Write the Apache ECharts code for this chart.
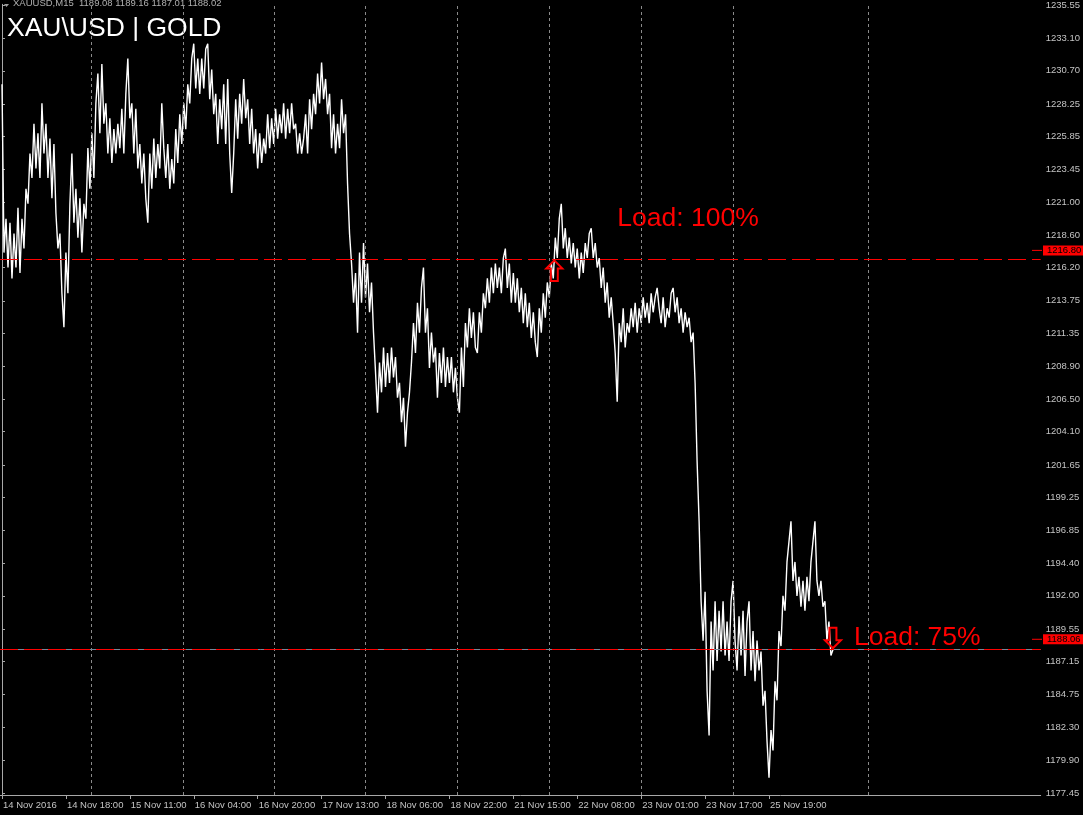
<!DOCTYPE html>
<html><head><meta charset="utf-8">
<script src="https://cdn.jsdelivr.net/npm/echarts@6/dist/echarts.min.js"></script>
<style>html,body{margin:0;padding:0;background:#000;}#c{width:1083px;height:815px;}</style>
</head><body><div id="c"></div>
<script>
// ---- data ----
const headerText = 'XAUUSD,M15  1189.08 1189.16 1187.01 1188.02';
const titleText = 'XAU\\USD | GOLD';
const BAR_STEP = 2; // M15 bars between sampled closes
const closes = [
1229.7,1217.3,1219.8,1216.2,1219.5,1215.4,1218.7,1216.2,1220.6,1215.8,
1219.8,1217.6,1222.0,1220.9,1224.6,1222.8,1226.8,1223.5,1226.1,1222.8,
1228.3,1224.6,1226.8,1222.8,1225.7,1221.3,1225.3,1220.2,1217.6,1218.7,
1214.3,1211.8,1217.3,1214.3,1220.9,1224.6,1219.5,1222.0,1218.4,1221.3,
1217.3,1220.9,1219.8,1225.0,1222.0,1226.1,1222.8,1228.3,1230.5,1226.1,
1231.2,1226.8,1228.3,1224.6,1227.2,1223.9,1226.4,1224.6,1226.8,1225.0,
1227.9,1224.6,1229.0,1231.6,1227.2,1228.3,1224.6,1227.9,1223.5,1225.3,
1222.4,1224.6,1221.3,1219.5,1224.6,1222.0,1225.7,1222.8,1225.3,1223.5,
1228.3,1225.0,1222.8,1225.3,1222.0,1224.2,1222.4,1226.4,1223.9,1227.5,
1225.3,1228.3,1226.4,1229.7,1228.3,1231.6,1232.7,1229.4,1231.6,1229.0,
1231.6,1229.4,1232.3,1232.7,1228.6,1230.8,1227.5,1229.0,1225.3,1228.6,
1226.4,1229.7,1225.3,1230.1,1224.6,1221.7,1224.6,1228.6,1225.7,1229.0,
1226.8,1230.1,1227.2,1228.6,1225.3,1227.9,1224.6,1226.4,1223.5,1226.1,
1223.9,1225.7,1224.6,1227.5,1225.0,1227.2,1225.3,1227.9,1225.7,1227.5,
1226.1,1228.3,1225.7,1227.9,1226.1,1228.3,1226.4,1226.8,1224.6,1226.1,
1224.6,1225.7,1227.5,1224.6,1228.6,1226.4,1229.0,1227.5,1230.5,1228.3,
1231.3,1228.6,1230.1,1227.5,1229.0,1225.0,1227.5,1224.6,1226.8,1225.0,
1228.6,1226.1,1227.5,1222.4,1218.7,1216.5,1213.6,1215.8,1211.4,1217.3,
1213.6,1218.0,1214.0,1216.5,1212.9,1215.1,1211.4,1208.5,1205.5,1209.2,
1207.0,1210.3,1207.4,1209.9,1207.7,1210.3,1208.1,1209.6,1206.6,1207.7,
1204.8,1206.6,1203.0,1205.5,1207.0,1209.2,1212.1,1209.9,1213.6,1211.4,
1214.7,1216.2,1211.4,1213.2,1208.8,1211.4,1209.2,1210.3,1206.6,1209.9,
1207.7,1210.3,1207.4,1209.6,1207.7,1209.6,1207.0,1208.8,1206.6,1205.5,
1210.3,1207.4,1212.1,1210.3,1213.2,1211.0,1212.9,1210.3,1209.9,1212.9,
1211.4,1214.3,1213.2,1215.4,1213.6,1216.2,1214.3,1216.5,1214.7,1216.2,
1214.3,1216.9,1217.6,1214.7,1216.5,1213.6,1215.8,1213.6,1215.4,1212.9,
1214.7,1212.1,1214.3,1211.8,1213.6,1211.0,1212.9,1210.7,1209.6,1213.2,
1211.4,1214.3,1212.5,1215.1,1214.0,1216.5,1215.4,1218.4,1216.9,1219.8,
1220.9,1217.6,1219.1,1216.9,1218.4,1216.5,1218.0,1216.2,1217.6,1215.4,
1217.3,1215.8,1218.0,1216.9,1218.7,1219.1,1216.9,1218.0,1216.2,1216.9,
1214.7,1216.2,1213.6,1215.1,1212.5,1214.0,1212.1,1209.9,1206.3,1212.1,
1210.7,1213.2,1210.3,1212.1,1211.4,1213.2,1211.8,1213.6,1211.4,1213.2,
1212.1,1214.0,1212.5,1213.6,1212.1,1214.3,1212.9,1214.0,1214.7,1213.2,
1212.1,1214.0,1211.8,1213.2,1212.5,1214.3,1214.7,1212.9,1214.0,1212.1,
1213.2,1211.4,1212.9,1211.8,1212.5,1210.7,1211.4,1207.7,1201.9,1197.5,
1191.6,1188.7,1192.3,1185.0,1181.7,1190.1,1186.5,1191.6,1187.2,1190.9,
1187.9,1191.6,1187.6,1190.1,1187.2,1191.6,1193.1,1188.7,1186.5,1190.5,
1187.6,1190.9,1186.1,1190.1,1191.6,1186.5,1189.4,1185.7,1188.7,1186.5,
1187.9,1183.9,1185.0,1181.3,1178.6,1182.1,1180.6,1185.7,1184.3,1189.4,
1188.3,1192.0,1190.9,1194.5,1196.0,1197.5,1193.1,1194.5,1192.0,1193.4,
1191.2,1193.1,1190.9,1193.4,1191.6,1194.5,1196.0,1197.5,1193.1,1192.0,
1193.1,1191.2,1191.6,1188.7,1190.1,1187.6,1188.02
];
const xTickBars = [0,64,128,192,256,320,384,448,512,576,640,704,768];
const xTickLabels = ['14 Nov 2016','14 Nov 18:00','15 Nov 11:00','16 Nov 04:00','16 Nov 20:00',
  '17 Nov 13:00','18 Nov 06:00','18 Nov 22:00','21 Nov 15:00','22 Nov 08:00','23 Nov 01:00',
  '23 Nov 17:00','25 Nov 19:00'];
const gridBars = [89,181,273,364,456,548,640,732,867];
const yTickLabels = ['1177.45','1179.90','1182.30','1184.75','1187.15','1189.55','1192.00','1194.40',
  '1196.85','1199.25','1201.65','1204.10','1206.50','1208.90','1211.35','1213.75','1216.20','1218.60',
  '1221.00','1223.45','1225.85','1228.25','1230.70','1233.10','1235.55'];
const hLineLevel = 1216.80;
const bidLevel = 1188.06;
const upSignal = {bar: 553, price: 1216.80, text: 'Load: 100%'};
const downSignal = {bar: 832, price: 1188.06, text: 'Load: 75%'};

// ---- chart ----
const chart = echarts.init(document.getElementById('c'), null, {renderer: 'canvas'});
const FONT = 'Liberation Sans';
const axisColor = '#a8a8a8';
const textColor = '#c4c4c4';
chart.setOption({
  backgroundColor: '#000',
  animation: false,
  grid: {left: 0, right: 41, top: 0, bottom: 20, containLabel: false},
  xAxis: {
    type: 'value', min: -2, max: 1040,
    axisLine: {show: true, lineStyle: {color: axisColor, width: 1}},
    axisTick: {show: true, length: 4, lineStyle: {color: axisColor}, customValues: xTickBars},
    axisLabel: {show: true, customValues: xTickBars, align: 'left', margin: 5, color: textColor,
      fontFamily: FONT, fontSize: 9.5, padding: [0,0,0,1],
      formatter: v => xTickLabels[xTickBars.indexOf(v)] || ''},
    splitLine: {show: false}
  },
  yAxis: {
    type: 'value', position: 'right', min: 1177.32, max: 1235.60,
    axisLine: {show: true, lineStyle: {color: axisColor, width: 1}},
    axisTick: {show: true, length: 3, lineStyle: {color: axisColor}, customValues: yTickLabels.map(Number)},
    axisLabel: {show: true, customValues: yTickLabels.map(Number), margin: 5, color: textColor,
      fontFamily: FONT, fontSize: 9.5, formatter: v => v.toFixed(2)},
    splitLine: {show: false}
  },
  series: [
    {type: 'line', data: [], z: 1, silent: true,
     markLine: {symbol: 'none', silent: true, label: {show: false}, animation: false,
       lineStyle: {color: '#8a8a8a', type: [3, 3], width: 1},
       data: gridBars.map(b => ({xAxis: b}))}},
    {type: 'line', data: closes.map((v, i) => [i * BAR_STEP, v]), z: 3,
     showSymbol: false, silent: true, lineStyle: {color: '#ffffff', width: 1.4}},
    {type: 'line', data: [], z: 4, silent: true,
     markLine: {symbol: 'none', silent: true, label: {show: false}, animation: false,
       data: [
         {yAxis: bidLevel, lineStyle: {color: '#778899', type: 'solid', width: 1}},
         {yAxis: bidLevel, lineStyle: {color: '#ff0000', type: [18, 6], width: 1}},
         {yAxis: hLineLevel, lineStyle: {color: '#ff0000', type: [18, 6], width: 1}}
       ]}}
  ]
});

function px(bar, price) { return chart.convertToPixel({gridIndex: 0}, [bar, price]); }
const upTip = px(upSignal.bar, upSignal.price);
const dnTip = px(downSignal.bar, downSignal.price);
const hY = px(0, hLineLevel)[1];
const bY = px(0, bidLevel)[1];
const upArrow = [[0,1],[8,9],[3.5,9],[3.5,21.5],[-3.5,21.5],[-3.5,9],[-8,9]];
const dnArrow = [[0,-1],[8,-9],[3.5,-9],[3.5,-21.5],[-3.5,-21.5],[-3.5,-9],[-8,-9]];
function priceBox(y, val) {
  return [
    {type: 'line', shape: {x1: 1032, y1: y, x2: 1042, y2: y}, style: {stroke: '#ff0000', lineWidth: 1}, z: 10},
    {type: 'rect', shape: {x: 1043, y: y - 5, width: 40, height: 10}, style: {fill: '#ff0000'}, z: 10},
    {type: 'text', x: 1047, y: y, style: {text: val.toFixed(2), fill: '#000', font: '9.5px ' + FONT,
      textVerticalAlign: 'middle'}, z: 11}
  ];
}
chart.setOption({
  graphic: [
    {type: 'polygon', shape: {points: [[4,4],[9,4],[6.5,7]]}, style: {fill: '#a0a0a0'}},
    {type: 'text', x: 13, y: 8.5, style: {text: headerText, fill: '#b0b0b0', font: '9.5px ' + FONT,
      textVerticalAlign: 'bottom'}},
    {type: 'text', x: 7, y: 42.5, style: {text: titleText, fill: '#ffffff', font: '26.5px ' + FONT,
      textVerticalAlign: 'bottom'}},
    {type: 'polygon', shape: {points: upArrow.map(p => [upTip[0] + p[0], upTip[1] + p[1]])},
     style: {fill: 'none', stroke: '#ff0000', lineWidth: 2}, z: 8},
    {type: 'polygon', shape: {points: dnArrow.map(p => [dnTip[0] + p[0], dnTip[1] + p[1]])},
     style: {fill: 'none', stroke: '#ff0000', lineWidth: 2}, z: 8},
    {type: 'text', x: upTip[0] + 63, y: upTip[1] - 27, style: {text: upSignal.text, fill: '#ff0000',
      font: '26.5px ' + FONT, textVerticalAlign: 'bottom'}, z: 8},
    {type: 'text', x: dnTip[0] + 21, y: dnTip[1] + 2, style: {text: downSignal.text, fill: '#ff0000',
      font: '26.5px ' + FONT, textVerticalAlign: 'bottom'}, z: 8},
    ...priceBox(hY - 9, hLineLevel),
    ...priceBox(bY - 10, bidLevel)
  ]
});
</script></body></html>
